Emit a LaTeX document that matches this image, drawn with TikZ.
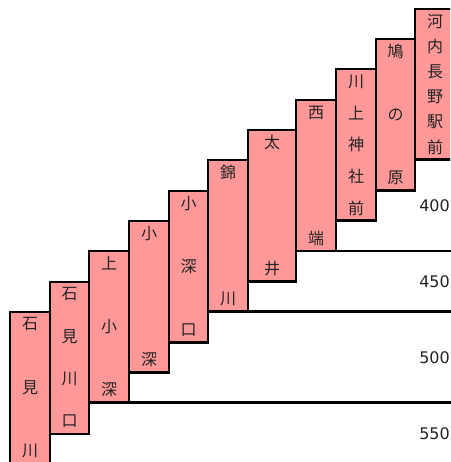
\documentclass[tikz,border=0pt]{standalone}
\usepackage{fontspec}
\newfontfamily\cjk{Noto Sans CJK JP}
\newfontfamily\dvs{DejaVu Sans}
\definecolor{stnpink}{HTML}{FF9999}
\definecolor{txtdark}{HTML}{222222}
\pgfdeclarelayer{background}
\pgfsetlayers{background,main}
\tikzset{
  stnbox/.style={draw=black, fill=stnpink, line width=2.8pt, inner sep=0pt, outer sep=0pt},
  stnchar/.style={inner sep=0pt, font=\cjk\fontsize{16}{16}\selectfont, text=txtdark},
  axlabel/.style={inner sep=0pt, anchor=east, font=\dvs\fontsize{16}{16}\selectfont, text=txtdark},
  gridln/.style={draw=black, line width=2.8pt}
}
\newcommand\stn[6]{%
  \node[stnbox, minimum width={#3-#2}, minimum height={#5-#4}, anchor=north west] (#1) at (#2,#4) {};
  \foreach \c [count=\i] in {#6} {\xdef\nchars{\i}}
  \foreach \c [count=\i] in {#6} {
    \pgfmathsetmacro\yy{#4+12.5+(\i-1)*(#5-#4-25)/(\nchars-1)}
    \node[stnchar] (#1-\i) at ({(#2+#3)/2},\yy) {\c};
  }
}
\begin{document}
\begin{tikzpicture}[x=1pt,y=-1pt]
\useasboundingbox (0,0) rectangle (450,462);
\clip (0,0) rectangle (450,462);
\coordinate (rightedge) at (455,0);
\stn{b1}{10}{50}{312}{463.5}{石,見,川}
\stn{b2}{50}{89}{282}{434}{石,見,川,口}
\stn{b3}{89}{129}{251}{402.5}{上,小,深}
\stn{b4}{129}{169}{221}{372.5}{小,深}
\stn{b5}{169}{208}{191}{342.5}{小,深,口}
\stn{b6}{208}{248}{160}{311.5}{錦,川}
\stn{b7}{248}{296}{130}{281.5}{太,井}
\stn{b8}{296}{336}{100}{251}{西,端}
\stn{b9}{336}{376}{69}{220.5}{川,上,神,社,前}
\stn{b10}{376}{415}{39}{190.5}{鳩,の,原}
\stn{b11}{415}{455}{9}{159.5}{河,内,長,野,駅,前}
\begin{pgfonlayer}{background}
\draw[gridln] (b3.south west) -- (b3.south west -| rightedge);
\draw[gridln] (b6.south west) -- (b6.south west -| rightedge);
\draw[gridln] (b8.south west) -- (b8.south west -| rightedge);
\end{pgfonlayer}
\node[axlabel] (l400) at (450,205.5) {400};
\node[axlabel] (l450) at (450,281.5) {450};
\node[axlabel] (l500) at (450,358) {500};
\node[axlabel] (l550) at (450,434) {550};
\end{tikzpicture}
\end{document}
